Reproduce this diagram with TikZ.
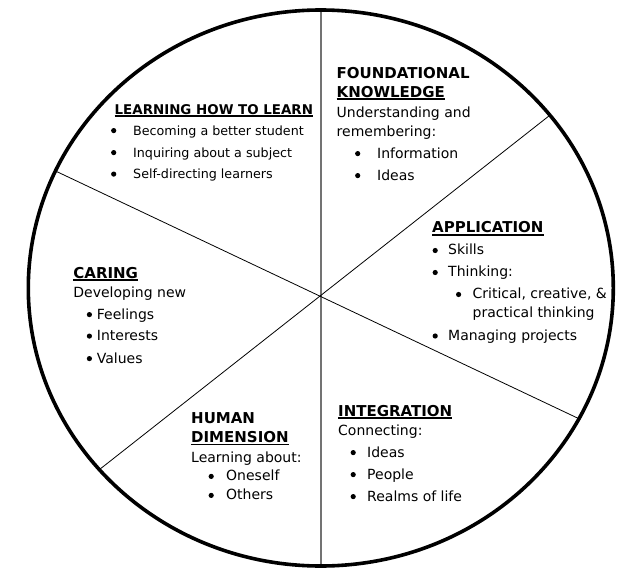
\documentclass[tikz,border=0pt]{standalone}
\usepackage{fontspec}
\setmainfont{DejaVu Sans}
\newcommand\headul[2][15]{\setbox0=\hbox{\fontsize{#1}{20}\selectfont\bfseries #2}\rlap{\rule[-2.8pt]{\wd0}{1.6pt}}\box0}
\newcommand\headtx[2][15]{{\fontsize{#1}{20}\selectfont\bfseries #2}}
\newcommand\dotb{\tikz[baseline=0pt]\fill (0pt,4.4pt) circle (2.6pt);}
\newcommand\itm[3]{\hspace*{#1}\makebox[0pt]{\dotb}\hspace*{#2}#3}
\begin{document}
\begin{tikzpicture}[x=1pt, y=-1pt,
    sector/.style={anchor=base west, inner sep=0pt, align=left,
                   font=\fontsize{14}{20}\selectfont},
    spoke/.style={line width=0.8pt},
    divider/.style={line width=1.3pt, black!55},
    rim/.style={line width=3.6pt}]

  \useasboundingbox (0,0) rectangle (637,586);

  % wheel
  \coordinate (c) at (320.5,296);
  \coordinate (top) at (321,10);
  \coordinate (bot) at (321,566);
  \coordinate (ul) at (55.5,171);
  \coordinate (ur) at (549.5,115.5);
  \coordinate (lr) at (578.5,418.5);
  \coordinate (ll) at (99.5,469.5);

  \draw[divider] (top) -- (bot);
  \draw[spoke] (ul) -- (lr);
  \draw[spoke] (ur) -- (ll);
  \draw[rim] (320.8,288) ellipse [x radius=292.5, y radius=278];

  % sectors (placed at the baseline of their last line)
  \node[sector, font=\fontsize{12.7}{20}\selectfont] (learn) at (114.5,178.5)
    {\headul[13.4]{LEARNING HOW TO LEARN}\\[1pt]
    \itm{-1pt}{19.5pt}{Becoming a better student}\\[2pt]
    \itm{-1pt}{19.5pt}{Inquiring about a subject}\\[1.5pt]
    \itm{-1pt}{19.5pt}{Self-directing learners}};

  \node[sector] (found) at (336.5,180) {\headtx{FOUNDATIONAL}\\[-1pt]
    \headul{KNOWLEDGE}\\
    Understanding and\\[-0.5pt]
    remembering:\\[1.5pt]
    \itm{21pt}{19.5pt}{Information}\\[2pt]
    \itm{21pt}{19.5pt}{Ideas}};

  \node[sector] (appl) at (432,340.4) {\headul{APPLICATION}\\[2pt]
    \itm{3pt}{13pt}{Skills}\\[2pt]
    \itm{3pt}{13pt}{Thinking:}\\[2pt]
    \itm{26.4pt}{14pt}{Critical, creative, \&}\\[-1.5pt]
    \hspace*{40.5pt}practical thinking\\[3pt]
    \itm{3pt}{13pt}{Managing projects}};

  \node[sector] (caring) at (73.2,363) {\headul{CARING}\\[-1pt]
    Developing new\\[2pt]
    \itm{16pt}{7.5pt}{Feelings}\\[1.5pt]
    \itm{16pt}{7.5pt}{Interests}\\[2.5pt]
    \itm{16pt}{7.5pt}{Values}};

  \node[sector] (human) at (191,499.8) {\headtx{HUMAN}\\[-1.5pt]
    \headul{DIMENSION}\\
    Learning about:\\[-1.5pt]
    \itm{20pt}{15pt}{Oneself}\\[-1pt]
    \itm{20pt}{15pt}{Others}};

  \node[sector] (integ) at (338,501) {\headul{INTEGRATION}\\[-0.5pt]
    Connecting:\\[1.5pt]
    \itm{15pt}{14pt}{Ideas}\\[2pt]
    \itm{15pt}{14pt}{People}\\[2pt]
    \itm{15pt}{14pt}{Realms of life}};
\end{tikzpicture}
\end{document}
